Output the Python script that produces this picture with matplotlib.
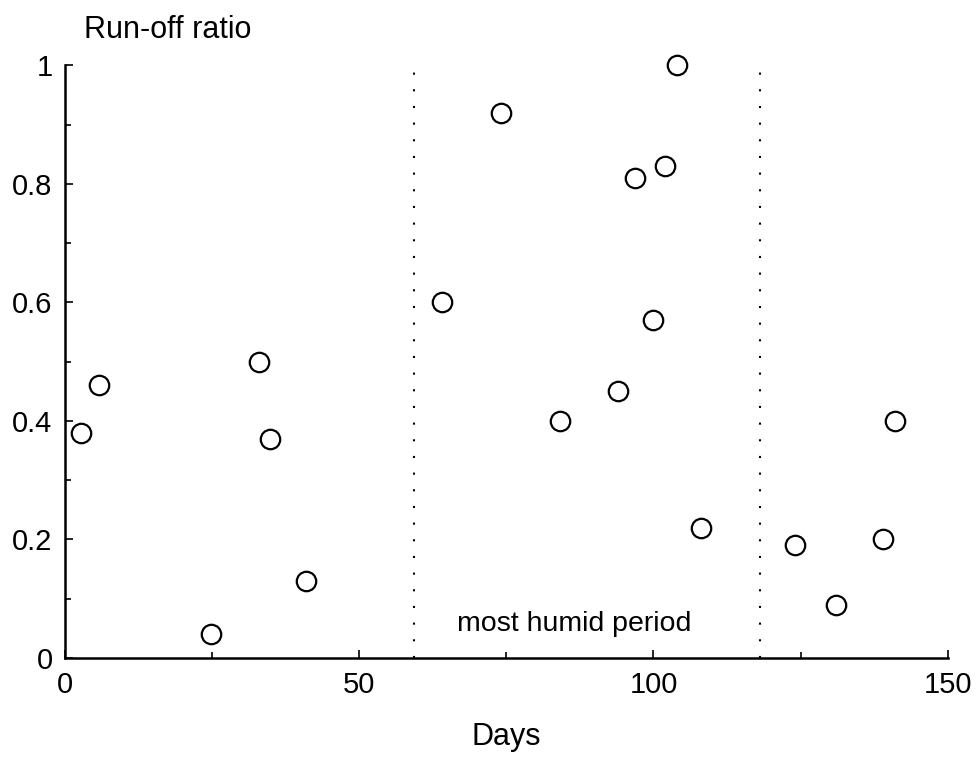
"""Run-off ratio vs. days scatter."""

import matplotlib

matplotlib.use("Agg")
import matplotlib.pyplot as plt
from matplotlib.ticker import MultipleLocator

plt.rcParams["font.family"] = ["Liberation Sans", "DejaVu Sans"]

days = [2.7, 5.8, 24.8, 33.0, 34.8, 40.9, 64.0, 74.1, 84.1, 93.9,
        96.8, 99.9, 101.9, 104.0, 108.0, 124.0, 131.0, 139.0, 141.0]
runoff = [0.38, 0.46, 0.04, 0.50, 0.37, 0.13, 0.60, 0.92, 0.40, 0.45,
          0.81, 0.57, 0.83, 1.00, 0.22, 0.19, 0.09, 0.20, 0.40]

# Limits of the most humid period
humid_bounds = [59.3, 118.1]

fig = plt.figure(figsize=(9.78, 7.59), dpi=100)
ax = fig.add_axes([0.0665, 0.133, 0.9025, 0.781])

ax.plot(days, runoff, "o", markersize=14, markerfacecolor="white",
        markeredgecolor="black", markeredgewidth=1.6, clip_on=False, zorder=3)

for xb in humid_bounds:
    ax.axvline(xb, color="black", linewidth=1.5, linestyle=(0, (1, 7)))

ax.text(86.6, 0.057, "most humid period", ha="center", va="center", fontsize=20.5)

ax.set_xlim(0, 150)
ax.set_ylim(0, 1)
ax.xaxis.set_major_locator(MultipleLocator(50))
ax.xaxis.set_minor_locator(MultipleLocator(25))
ax.yaxis.set_major_locator(MultipleLocator(0.2))
ax.yaxis.set_minor_locator(MultipleLocator(0.1))
ax.set_yticks([0, 0.2, 0.4, 0.6, 0.8, 1.0])
ax.set_yticklabels(["0", "0.2", "0.4", "0.6", "0.8", "1"])
ax.tick_params(which="both", direction="in", labelsize=21, width=1.2)
ax.tick_params(which="major", length=6, pad=9)
ax.tick_params(which="minor", length=4)

for side in ["top", "right"]:
    ax.spines[side].set_visible(False)
for side in ["left", "bottom"]:
    ax.spines[side].set_linewidth(1.8)

ax.set_xlabel("Days", fontsize=22, labelpad=17)
fig.text(0.171, 0.96, "Run-off ratio", ha="center", va="center", fontsize=22)

fig.savefig("out.png", dpi=100)
